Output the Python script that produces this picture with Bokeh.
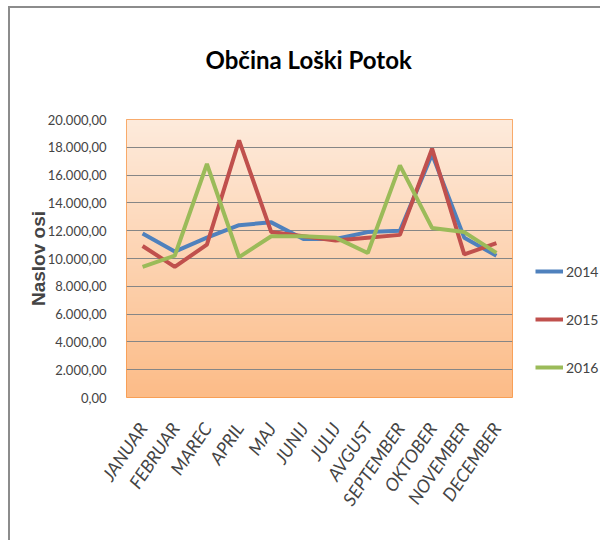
import numpy as np
from bokeh.plotting import figure
from bokeh.layouts import row
from bokeh.models import (Range1d, FixedTicker, Legend, LegendItem, Title)
from bokeh.embed import file_html
from bokeh.resources import INLINE

months = ["JANUAR", "FEBRUAR", "MAREC", "APRIL", "MAJ", "JUNIJ", "JULIJ",
          "AVGUST", "SEPTEMBER", "OKTOBER", "NOVEMBER", "DECEMBER"]
s2014 = [11800, 10500, 11500, 12400, 12600, 11400, 11400, 11900, 12000, 17500, 11500, 10200]
s2015 = [10900, 9400, 11000, 18500, 11900, 11600, 11300, 11500, 11700, 17900, 10300, 11100]
s2016 = [9400, 10200, 16800, 10100, 11600, 11600, 11500, 10400, 16700, 12200, 11900, 10400]
series_names = ["2014", "2015", "2016"]
series_colors = ["#4F81BD", "#C0504D", "#9BBB59"]
y_ticks = [0, 2000, 4000, 6000, 8000, 10000, 12000, 14000, 16000, 18000, 20000]
y_tick_labels = ["0,00", "2.000,00", "4.000,00", "6.000,00", "8.000,00", "10.000,00",
                 "12.000,00", "14.000,00", "16.000,00", "18.000,00", "20.000,00"]
series = [s2014, s2015, s2016]

FONT = "Lato"
H = 532

xs = [i + 0.5 for i in range(len(months))]

p = figure(width=504, height=H, output_backend="svg", toolbar_location=None,
           x_range=Range1d(0, len(months)), y_range=Range1d(y_ticks[0], y_ticks[-1]),
           min_border_left=116, min_border_right=2, min_border_top=111,
           min_border_bottom=143)
p.background_fill_color = "white"
p.border_fill_color = "white"
p.outline_line_color = "#F79646"
p.outline_line_width = 1

# gradient background of the plot area
n = 200
top = np.array([254, 235, 220])
bot = np.array([252, 188, 136])
img = np.zeros((n, 1), dtype=np.uint32)
view = img.view(dtype=np.uint8).reshape((n, 1, 4))
for i in range(n):
    t = i / (n - 1)
    c = bot * (1 - t) + top * t
    view[i, 0, 0] = int(c[0]); view[i, 0, 1] = int(c[1]); view[i, 0, 2] = int(c[2]); view[i, 0, 3] = 255
p.image_rgba(image=[img], x=0, y=y_ticks[0], dw=len(months), dh=y_ticks[-1] - y_ticks[0], level="image")

# title
p.title = Title(text="Občina Loški Potok\n", align="left", offset=79,
                text_font=FONT, text_font_size="24px", text_font_style="bold",
                text_color="black", standoff=34)

for name, vals, col in zip(series_names, series, series_colors):
    p.line(xs, vals, line_color=col, line_width=4)

# axes
p.xaxis.ticker = FixedTicker(ticks=xs)
p.xaxis.major_label_overrides = {x: m for x, m in zip(xs, months)}
p.xaxis.major_label_orientation = 56 * np.pi / 180
p.xaxis.major_label_text_font = FONT
p.xaxis.major_label_text_font_style = "italic"
p.xaxis.major_label_text_font_size = "18px"
p.xaxis.major_label_standoff = 21
p.xaxis.axis_line_color = None
p.xaxis.major_tick_line_color = None
p.xaxis.minor_tick_line_color = None

p.yaxis.ticker = FixedTicker(ticks=y_ticks)
p.yaxis.major_label_overrides = {t: l for t, l in zip(y_ticks, y_tick_labels)}
p.yaxis.major_label_text_font = FONT
p.yaxis.major_label_text_font_size = "13px"
p.yaxis.major_label_standoff = 14
p.yaxis.axis_label = "Naslov osi"
p.yaxis.axis_label_text_font = "Liberation Sans"
p.yaxis.axis_label_text_font_style = "bold"
p.yaxis.axis_label_text_font_size = "19px"
p.yaxis.axis_label_standoff = -4
p.yaxis.axis_line_color = None
p.yaxis.major_tick_line_color = None
p.yaxis.minor_tick_line_color = None

p.xgrid.grid_line_color = None
p.ygrid.grid_line_color = "#868686"
p.ygrid.grid_line_width = 1

# legend panel to the right of the plot area (its own copies of the series, kept out of view)
pl = figure(width=86, height=H, output_backend="svg", toolbar_location=None,
            x_axis_type=None, y_axis_type=None,
            x_range=Range1d(-20, -19), y_range=Range1d(0, 1),
            min_border_left=0, min_border_right=0, min_border_top=0, min_border_bottom=0)
pl.outline_line_color = None
pl.background_fill_color = "white"
pl.border_fill_color = "white"
items = []
for name, vals, col in zip(series_names, series, series_colors):
    r = pl.line(xs, vals, line_color=col, line_width=4)
    items.append(LegendItem(label=name, renderers=[r]))
legend = Legend(items=items, location=(21, 20), spacing=28, padding=0, margin=0,
                glyph_width=28, glyph_height=20, label_height=20, label_standoff=3,
                label_text_font=FONT, label_text_font_size="14px",
                border_line_color=None, background_fill_alpha=0)
pl.add_layout(legend)

layout = row(p, pl, styles={"border-top": "2px solid #8c8c8c", "border-left": "2px solid #8c8c8c",
                            "margin-left": "8px", "margin-top": "6px"})

open("out.html", "w").write(file_html(layout, INLINE))
